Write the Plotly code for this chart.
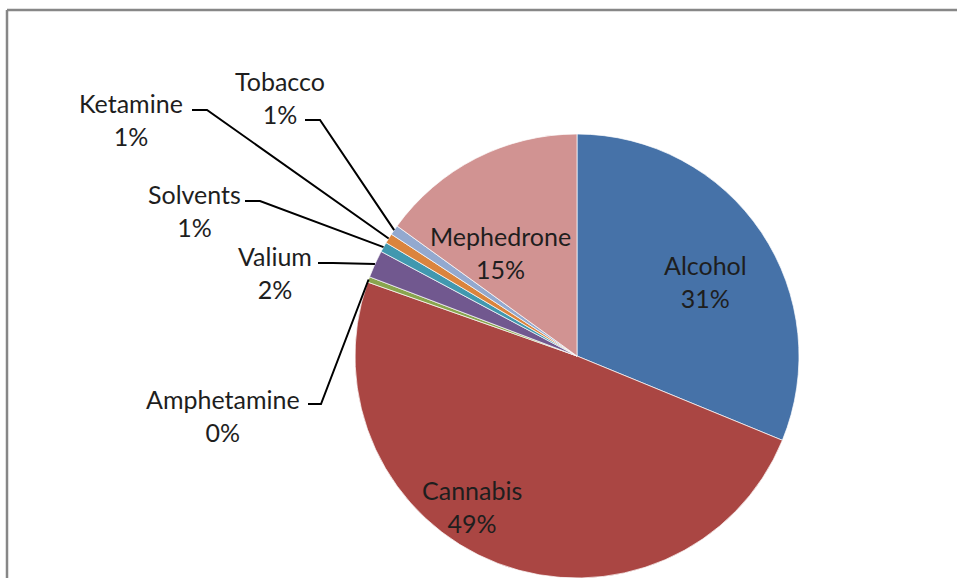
import math
import plotly.graph_objects as go

# ---- data ----
labels = ["Alcohol", "Cannabis", "Amphetamine", "Valium", "Solvents", "Ketamine", "Tobacco", "Mephedrone"]
values = [31.2, 49.2, 0.4, 2.0, 0.72, 0.72, 0.72, 15.04]
colors = ["#4672A8", "#AA4643", "#89A54E", "#71588F", "#4198AF", "#DB843D", "#93A9CF", "#D19392"]

# ---- layout (pixels) ----
W, H = 957, 578
CX, CY, R = 577, 358, 222
FONT = "Lato"
FS = 25
TXT = "#1e1e1e"

# label block centres (pixels) and leader-line elbows for outside labels
inside_pos = {"Alcohol": (705, 282), "Cannabis": (472, 506), "Mephedrone": (501, 252)}
outside_pos = {
    "Tobacco": (280, 97, (305, 120), (320, 120)),
    "Ketamine": (131, 120, (192, 110), (207, 110)),
    "Solvents": (194, 210, (245, 201), (260, 201)),
    "Valium": (275, 272, (318, 263), (333, 263)),
    "Amphetamine": (223, 415, (308, 404), (321, 404)),
}

def px(x):
    return x / W

def py(y):
    return 1 - y / H

total = sum(values)
pcts = [round(v / total * 100) for v in values]

fig = go.Figure()
fig.add_trace(go.Pie(
    labels=labels, values=values, sort=False, direction="clockwise", rotation=0,
    marker=dict(colors=colors, line=dict(color="white", width=0.7)),
    textinfo="none", hoverinfo="label+percent", showlegend=False,
    domain=dict(x=[(CX - R) / W, (CX + R) / W], y=[0, 2 * R / H]),
))

annotations = []
shapes = []
# rim points at mid-angle of each slice
cum = 0
mid = {}
for lab, v in zip(labels, values):
    a = (cum + v / 2) / total * 2 * math.pi
    mid[lab] = (CX + R * math.sin(a), (H - R) - R * math.cos(a))
    cum += v

for lab, p in zip(labels, pcts):
    text = f"{lab}<br>{p}%"
    if lab in inside_pos:
        x, y = inside_pos[lab]
    else:
        x, y, s, e = outside_pos[lab]
        rx, ry = mid[lab]
        path = f"M {px(s[0])},{py(s[1])} L {px(e[0])},{py(e[1])} L {px(rx)},{py(ry)}"
        shapes.append(dict(type="path", xref="paper", yref="paper", path=path,
                           line=dict(color="black", width=2)))
    annotations.append(dict(x=px(x), y=py(y), xref="paper", yref="paper", text=text,
                            showarrow=False, xanchor="center", yanchor="middle", align="center",
                            font=dict(family=FONT, size=FS, color=TXT)))

# chart border (top and left visible)
shapes.append(dict(type="line", xref="paper", yref="paper", x0=px(7), x1=1.0, y0=py(10), y1=py(10),
                   line=dict(color="#878787", width=2.5)))
shapes.append(dict(type="line", xref="paper", yref="paper", x0=px(7), x1=px(7), y0=py(10), y1=0,
                   line=dict(color="#878787", width=2.5)))

fig.update_layout(
    width=W, height=H, margin=dict(l=0, r=0, t=0, b=0),
    paper_bgcolor="white", plot_bgcolor="white",
    annotations=annotations, shapes=shapes,
)
fig.write_html("out.html")
